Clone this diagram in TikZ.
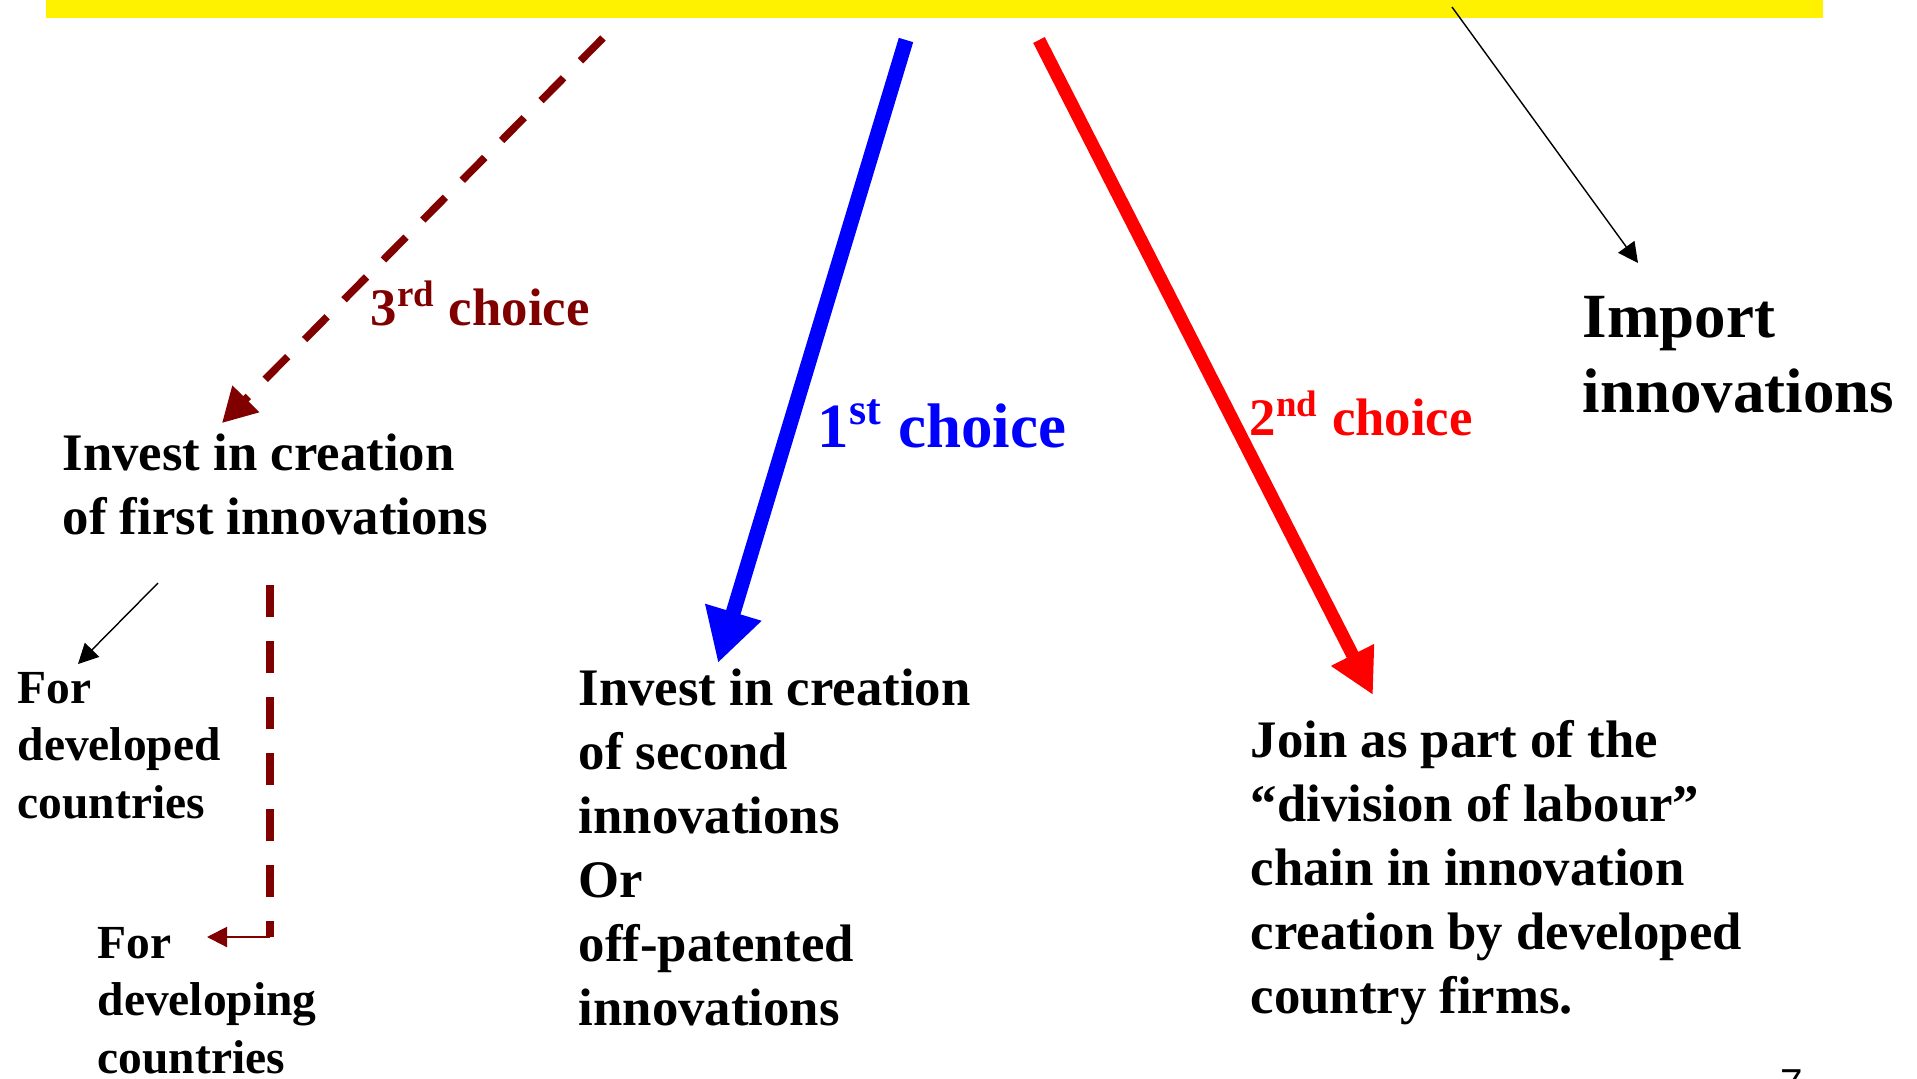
\documentclass[tikz,border=0pt]{standalone}
\usepackage{fontspec}
\setmainfont{Liberation Serif}
\newfontfamily\pagenofont{Liberation Sans}
\usetikzlibrary{arrows.meta}
\definecolor{maroon}{RGB}{128,0,0}
\tikzset{
  txt/.style={anchor=base west, inner sep=0pt, align=left, font=\bfseries\fontsize{15}{18.2}\selectfont},
  smalltxt/.style={txt, font=\bfseries\fontsize{13.5}{16.3}\selectfont},
  bigtxt/.style={txt, font=\bfseries\fontsize{17.9}{21.3}\selectfont},
  thinarrow/.style={-{Triangle[length=0.2cm,width=0.2cm]}, line width=0.4pt},
}
\begin{document}
\begin{tikzpicture}[x=0.01cm,y=-0.01cm]
\useasboundingbox (0,0) rectangle (1917,1078);

% yellow heading bar
\fill[yellow] (46,-10) rectangle (1823,18);

% outcome texts (placed by their last baseline)
\node[txt] (first) at (62,534) {Invest in creation\\of first innovations};
\node[txt] (second) at (578,1025) {Invest in creation\\of second\\innovations\\Or\\off-patented\\innovations};
\node[txt] (join) at (1250,1013) {Join as part of the\\``division of labour''\\chain in innovation\\creation by developed\\country firms.};
\node[bigtxt] (import) at (1582,412) {Import\\innovations};
\node[smalltxt] (devd) at (17,818) {For\\developed\\countries};
\node[smalltxt] (devg) at (97,1073) {For\\developing\\countries};

% choice labels
\node[txt, text=maroon] (lab3) at (370,325) {3\textsuperscript{rd} choice};
\node[bigtxt, text=blue] (lab1) at (817,447) {1\textsuperscript{st} choice};
\node[txt, text=red] (lab2) at (1249,435) {2\textsuperscript{nd} choice};

\node[anchor=base west, inner sep=0pt, font=\pagenofont\fontsize{11.5}{14}\selectfont] (pageno) at (1780,1097) {7};

% arrow ends
\coordinate (s3) at (603,38);
\coordinate (e3) at (222,423);
\coordinate (s1) at (906,40);
\coordinate (e1) at (718,663);
\coordinate (s2) at (1039,40);
\coordinate (e2) at (1373,695);
\coordinate (simp) at (1452,7);
\coordinate (eimp) at (1638,263);
\coordinate (sdevd) at (158,583);
\coordinate (edevd) at (78,664);
\coordinate (sdevg) at (270,585);
\coordinate (cdevg) at (270,937);
\coordinate (edevg) at (207,937);

% the three choices
\draw[maroon, line width=0.075cm, dash pattern=on 0.32cm off 0.24cm, -{Triangle[length=0.34cm,width=0.36cm]}] (s3) -- (e3);
\draw[blue, line width=0.15cm, -{Triangle[length=0.53cm,width=0.55cm]}] (s1) -- (e1);
\draw[red, line width=0.13cm, -{Triangle[length=0.45cm,width=0.45cm]}] (s2) -- (e2);

% thin arrows
\draw[thinarrow] (simp) -- (eimp);
\draw[thinarrow] (sdevd) -- (edevd);
\draw[maroon, line width=0.075cm, dash pattern=on 0.32cm off 0.24cm] (sdevg) -- (cdevg);
\draw[maroon, thinarrow, line width=0.6pt] (cdevg) -- (edevg);

\end{tikzpicture}
\end{document}
